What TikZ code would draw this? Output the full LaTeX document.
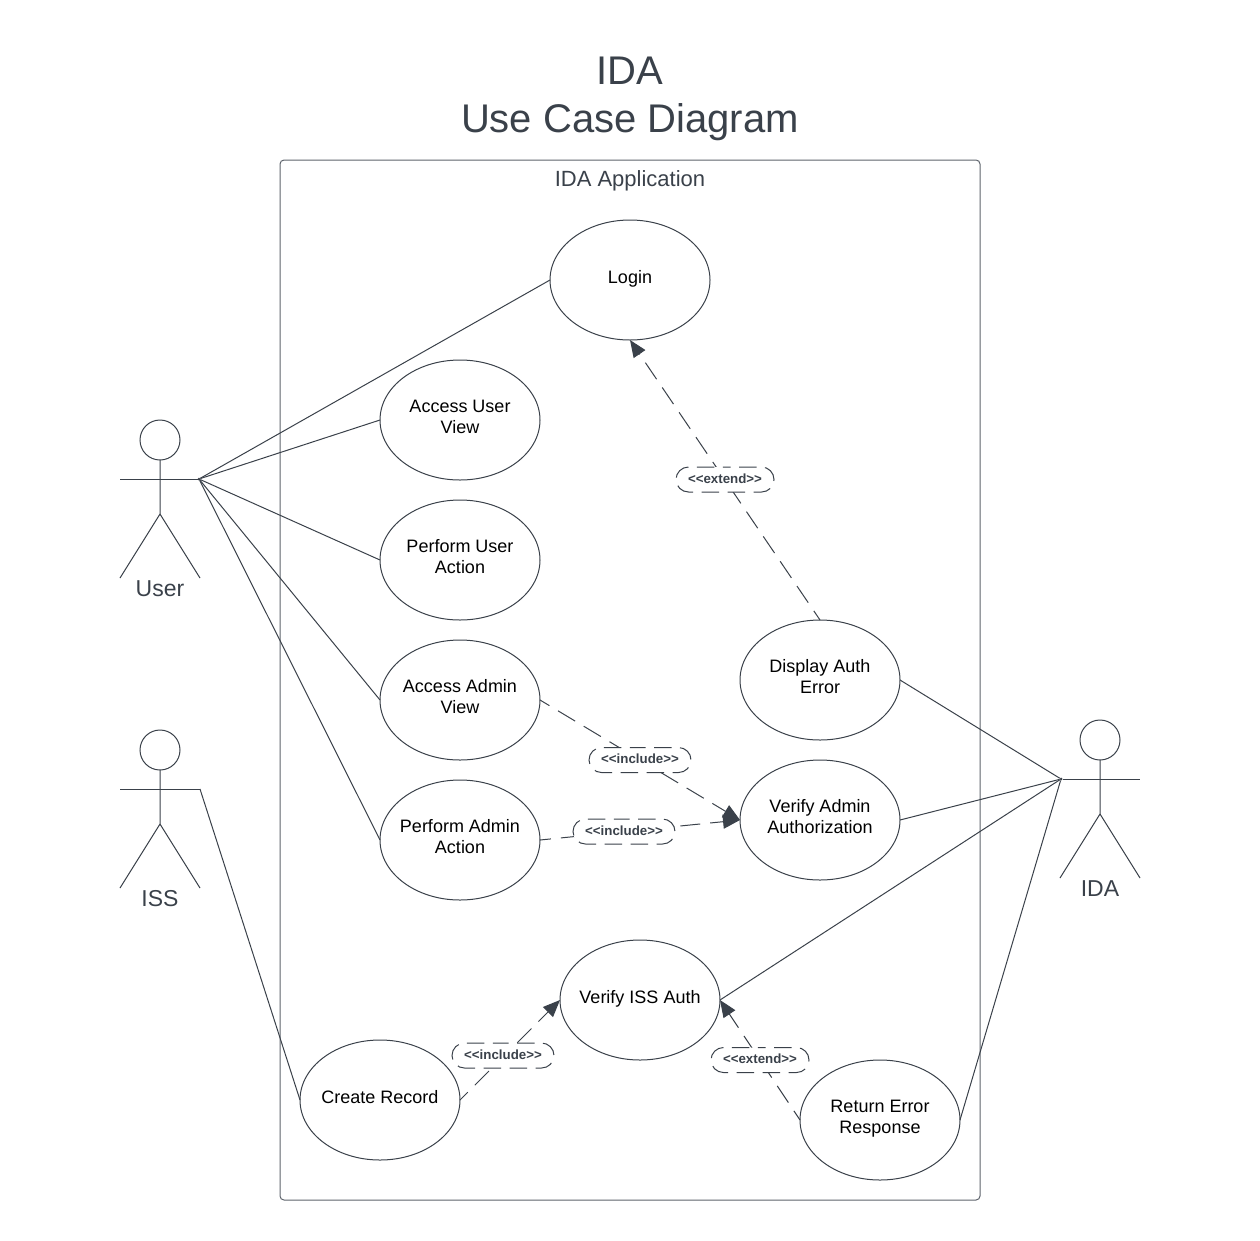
\documentclass[tikz,border=0pt]{standalone}
\usepackage{fontspec}
\setmainfont{Liberation Sans}
\usetikzlibrary{arrows.meta}
\usetikzlibrary{shapes.geometric}
\usetikzlibrary{shapes.misc}
\definecolor{inkgray}{HTML}{3A414A}
\definecolor{framegray}{HTML}{5E646C}
\tikzstyle{usecase}=[draw=inkgray, ellipse, inner xsep=-10, inner ysep=0, outer sep=0, minimum width=160, minimum height=120, align=center, text=black, text depth=6.5pt, font=\fontsize{18}{21}\selectfont]
\tikzstyle{actorhead}=[draw=inkgray, circle, inner sep=0, outer sep=0, minimum size=40]
\tikzstyle{actorhand}=[fill=inkgray, circle, inner sep=0, outer sep=0, minimum size=3]
\tikzstyle{actorname}=[inner sep=0, text=inkgray, font=\fontsize{23}{26}\selectfont]
\tikzstyle{stereotype}=[draw=inkgray, fill=white, rounded rectangle, dash pattern=on 17.5 off 8.5, dash phase=12, inner sep=0, minimum height=25, text=inkgray, text depth=2.5pt, font=\fontsize{13.3}{15}\selectfont\bfseries]
\tikzstyle{assoc}=[draw=inkgray, line width=1]
\tikzstyle{dep}=[draw=inkgray, line width=1, dash pattern=on 20 off 10, dash phase=9, -{Triangle[length=17, width=14]}]
\begin{document}
\begin{tikzpicture}[x=1pt, y=-1pt, line width=1]
        \useasboundingbox (0, 0) rectangle (1260, 1240);
        % Titles and system boundary.
        \node[text=inkgray, align=center, font=\fontsize{40}{47.5}\selectfont] (Title) at (630, 99) {IDA\\Use Case Diagram};
        \node[draw=framegray, rounded corners=4, inner sep=0, minimum width=700, minimum height=1040] (System) at (630, 680) {};
        \node[text=inkgray, inner sep=0, font=\fontsize{22}{26}\selectfont] (SystemName) at (630, 181) {IDA Application};
        % Use cases.
        \node[usecase] (Login)       at (630, 280)  {Login};
        \node[usecase] (UserView)    at (460, 420)  {Access User\\View};
        \node[usecase] (UserAction)  at (460, 560)  {Perform User\\Action};
        \node[usecase] (AdminView)   at (460, 700)  {Access Admin\\View};
        \node[usecase] (AdminAction) at (460, 840)  {Perform Admin\\Action};
        \node[usecase] (AuthError)   at (820, 680)  {Display Auth\\Error};
        \node[usecase] (VerifyAdmin) at (820, 820)  {Verify Admin\\Authorization};
        \node[usecase] (VerifyISS)   at (640, 1000) {Verify ISS Auth};
        \node[usecase] (CreateRec)   at (380, 1100) {Create Record};
        \node[usecase] (ReturnErr)   at (880, 1120) {Return Error\\Response};
        % Actors.
        \node[actorhead] (UserHead) at (160, 440) {};
        \node[actorhead] (ISSHead)  at (160, 750) {};
        \node[actorhead] (IDAHead)  at (1100, 740) {};
        \node[actorhand] (UserHand) at (199, 479) {};
        \node[actorhand] (IDAHand)  at (1061, 779) {};
        \coordinate (ISSHand) at (200, 789);
        \node[actorname] (UserName) at (160, 589) {User};
        \node[actorname] (ISSName)  at (160, 899) {ISS};
        \node[actorname] (IDAName)  at (1100, 889) {IDA};
        \draw[assoc] (UserHead) -- ++(0, 74) coordinate (UserHip) -- ++(-40, 64);
        \draw[assoc] (UserHip) -- ++(40, 64);
        \draw[assoc] (120, 479) -- (UserHand);
        \draw[assoc] (ISSHead) -- ++(0, 74) coordinate (ISSHip) -- ++(-40, 64);
        \draw[assoc] (ISSHip) -- ++(40, 64);
        \draw[assoc] (120, 789) -- (ISSHand);
        \draw[assoc] (IDAHead) -- ++(0, 74) coordinate (IDAHip) -- ++(-40, 64);
        \draw[assoc] (IDAHip) -- ++(40, 64);
        \draw[assoc] (IDAHand) -- (1140, 779);
        % Associations.
        \draw[assoc] (UserHand) -- (Login.west);
        \draw[assoc] (UserHand) -- (UserView.west);
        \draw[assoc] (UserHand) -- (UserAction.west);
        \draw[assoc] (UserHand) -- (AdminView.west);
        \draw[assoc] (UserHand) -- (AdminAction.west);
        \draw[assoc] (ISSHand) -- (CreateRec.west);
        \draw[assoc] (IDAHand) -- (AuthError.east);
        \draw[assoc] (IDAHand) -- (VerifyAdmin.east);
        \draw[assoc] (IDAHand) -- (VerifyISS.east);
        \draw[assoc] (IDAHand) -- (ReturnErr.east);
        % Dependencies.
        \draw[dep] (AuthError.north) -- (Login.south);
        \draw[dep] (AdminView.east) -- (VerifyAdmin.west);
        \draw[dep] (AdminAction.east) -- (VerifyAdmin.west);
        \draw[dep] (CreateRec.east) -- (VerifyISS.west);
        \draw[dep] (ReturnErr.west) -- (VerifyISS.east);
        \node[stereotype, minimum width=98]  (ExtendLogin)  at (725, 479.5)  {<{}<extend>{}>};
        \node[stereotype, minimum width=102] (IncludeView)  at (640, 760)    {<{}<include>{}>};
        \node[stereotype, minimum width=102] (IncludeAct)   at (624, 831.5)  {<{}<include>{}>};
        \node[stereotype, minimum width=102] (IncludeISS)   at (503, 1055.5) {<{}<include>{}>};
        \node[stereotype, minimum width=98]  (ExtendError)  at (760, 1060)   {<{}<extend>{}>};
\end{tikzpicture}
\end{document}
